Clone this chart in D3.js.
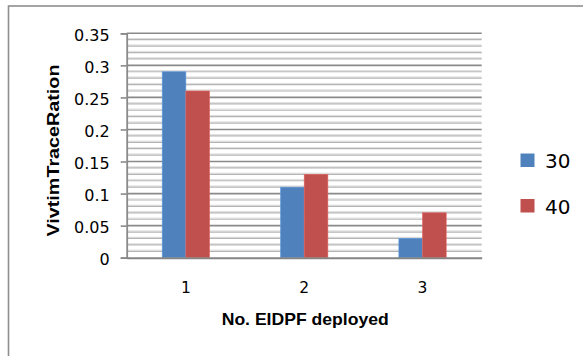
<!DOCTYPE html>
<html>
<head>
<meta charset="utf-8">
<script src="https://cdn.jsdelivr.net/npm/d3@7"></script>
<style>
  html, body { margin: 0; padding: 0; background: #fff; }
  svg { display: block; }
</style>
</head>
<body>
<svg id="chart" width="583" height="356"></svg>
<script>
// ---- data ----
const categories = ["1", "2", "3"];
const seriesNames = ["30", "40"];
const series30 = [0.29, 0.11, 0.03];
const series40 = [0.26, 0.13, 0.07];
const yTickValues = [0, 0.05, 0.1, 0.15, 0.2, 0.25, 0.3, 0.35];
const yTickLabels = ["0", "0.05", "0.1", "0.15", "0.2", "0.25", "0.3", "0.35"];
const yMinorStep = 0.01;
const xTitle = "No. EIDPF deployed";
const yTitle = "VivtimTraceRation";
const colors = ["#4F81BD", "#C0504D"];

const seriesValues = [series30, series40];

const svg = d3.select("#chart");
const W = 583, H = 356;

// outer chart border
svg.append("rect")
  .attr("x", 8.5).attr("y", 6)
  .attr("width", 640).attr("height", 400)
  .attr("fill", "#fff")
  .attr("stroke", "#8e8e8e").attr("stroke-width", 1.6);

const plot = { left: 126.7, right: 481.7, top: 33.3, bottom: 257.7 };

const y = d3.scaleLinear().domain([0, 0.35]).range([plot.bottom, plot.top]);
const x0 = d3.scaleBand().domain(categories).range([plot.left, plot.right]).paddingInner(0).paddingOuter(0);
const x1 = d3.scaleBand().domain(seriesNames).range([0, x0.bandwidth()]).paddingInner(0).paddingOuter(1.5);

// minor gridlines
const minorTicks = d3.range(0, 0.35 + 1e-9, yMinorStep).filter(v => Math.abs(v / 0.05 - Math.round(v / 0.05)) > 1e-6);
const grid = svg.append("g");
grid.selectAll("line.minorShadow").data(minorTicks).join("line")
  .attr("x1", plot.left).attr("x2", plot.right)
  .attr("y1", d => y(d) - 1.2).attr("y2", d => y(d) - 1.2)
  .attr("stroke", "#dedede").attr("stroke-width", 1);
grid.selectAll("line.minor").data(minorTicks).join("line")
  .attr("x1", plot.left).attr("x2", plot.right)
  .attr("y1", d => y(d)).attr("y2", d => y(d))
  .attr("stroke", "#b4b4b4").attr("stroke-width", 1.2);
// major gridlines
grid.selectAll("line.major").data(yTickValues.slice(1)).join("line")
  .attr("x1", plot.left).attr("x2", plot.right)
  .attr("y1", d => y(d)).attr("y2", d => y(d))
  .attr("stroke", "#8a8a8a").attr("stroke-width", 1.6);

// bars
const groups = svg.append("g").selectAll("g").data(categories).join("g")
  .attr("transform", d => `translate(${x0(d)},0)`);
groups.selectAll("rect").data((d, i) => seriesNames.map((s, j) => ({ s, v: seriesValues[j][i], j })))
  .join("rect")
  .attr("x", d => x1(d.s))
  .attr("y", d => y(d.v))
  .attr("width", x1.bandwidth())
  .attr("height", d => y(0) - y(d.v))
  .attr("fill", d => colors[d.j])
  .attr("stroke", d => d3.color(colors[d.j]).brighter(0.5))
  .attr("stroke-width", 0.6);

// y axis
const yAxis = d3.axisLeft(y).tickValues(yTickValues)
  .tickFormat((d, i) => yTickLabels[i]).tickSize(6).tickPadding(11);
const gy = svg.append("g").attr("transform", `translate(${plot.left},0)`).call(yAxis);
gy.select(".domain").attr("stroke", "#8a8a8a").attr("stroke-width", 1.8);
gy.selectAll(".tick line").attr("stroke", "#8a8a8a").attr("stroke-width", 1.6);
gy.selectAll(".tick text")
  .attr("font-family", "DejaVu Sans").attr("font-size", 16).attr("fill", "#000")
  .attr("dy", "0.42em");

// x axis
const xAxis = d3.axisBottom(x0).tickSize(0).tickPadding(24);
const gx = svg.append("g").attr("transform", `translate(0,${plot.bottom})`).call(xAxis);
gx.select(".domain").attr("stroke", "#848484").attr("stroke-width", 2);
gx.selectAll(".tick text")
  .attr("font-family", "DejaVu Sans").attr("font-size", 15.5).attr("fill", "#000");

// axis titles
svg.append("text")
  .attr("x", (plot.left + plot.right) / 2 + 1).attr("y", 325)
  .attr("text-anchor", "middle")
  .attr("font-family", "Liberation Sans, Arial, sans-serif").attr("font-weight", "bold")
  .attr("font-size", 16.5).attr("textLength", 167).attr("lengthAdjust", "spacingAndGlyphs")
  .text(xTitle);

svg.append("text")
  .attr("transform", `translate(59,${(plot.top + plot.bottom) / 2 + 5}) rotate(-90)`)
  .attr("text-anchor", "middle")
  .attr("font-family", "Liberation Sans, Arial, sans-serif").attr("font-weight", "bold")
  .attr("font-size", 17).attr("textLength", 172).attr("lengthAdjust", "spacingAndGlyphs")
  .text(yTitle);

// legend
const legend = svg.append("g");
const legendY = [153.5, 199];
seriesNames.forEach((s, i) => {
  legend.append("rect")
    .attr("x", 520.5).attr("y", legendY[i])
    .attr("width", 14).attr("height", 13.5)
    .attr("fill", colors[i]);
  legend.append("text")
    .attr("x", 545).attr("y", legendY[i] + 14.5)
    .attr("font-family", "DejaVu Sans").attr("font-size", 20)
    .attr("fill", "#000")
    .text(s);
});
</script>
</body>
</html>
